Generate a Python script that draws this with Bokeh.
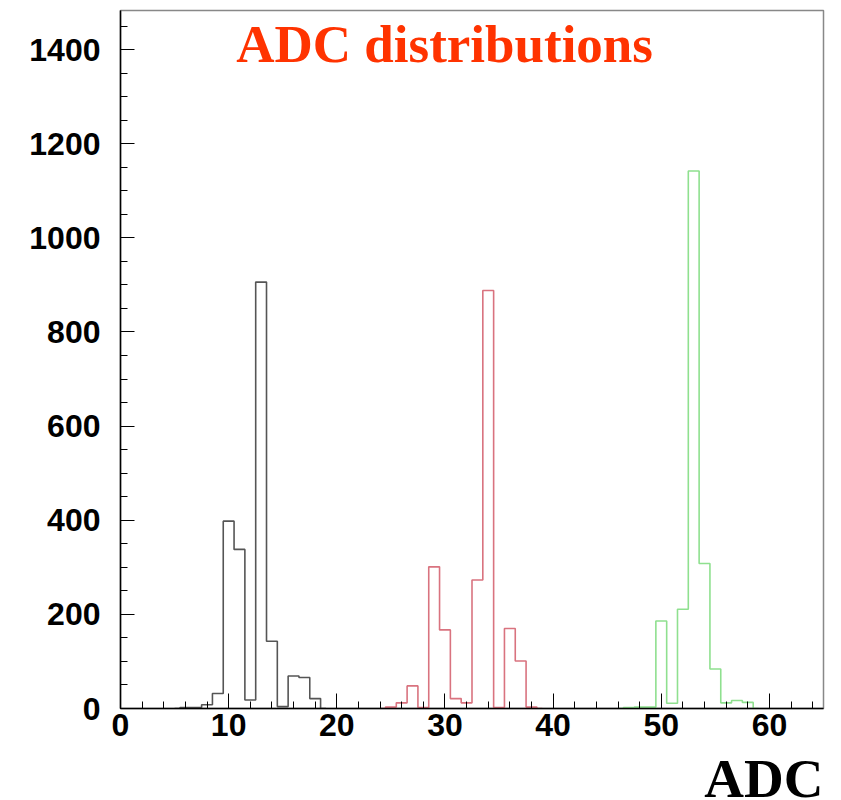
from bokeh.plotting import figure
from bokeh.models import Label, SingleIntervalTicker, Range1d
from bokeh.layouts import column
from bokeh.embed import file_html
from bokeh.resources import INLINE

# ---- data (bin centres, counts) ----
black_bins = [6, 7, 8, 9, 10, 11, 12, 13, 14, 15, 16, 17, 18]
black_counts = [2, 2, 8, 32, 398, 338, 18, 906, 143, 4, 69, 66, 21]

red_bins = [25, 26, 27, 28, 29, 30, 31, 32, 33, 34, 35, 36, 37, 38]
red_counts = [3, 12, 48, 2, 301, 167, 21, 12, 273, 888, 2, 170, 101, 3]

green_bins = [47, 48, 49, 50, 51, 52, 53, 54, 55, 56, 57, 58]
green_counts = [2, 3, 3, 186, 11, 211, 1142, 308, 84, 12, 17, 13]

series = [
    (black_bins, black_counts, "#555555"),
    (red_bins, red_counts, "#d9737f"),
    (green_bins, green_counts, "#8fe08f"),
]

title_text = "ADC distributions"
x_title = "ADC"

p = figure(width=841, height=752,
           x_range=Range1d(0, 65), y_range=Range1d(0, 1483),
           output_backend="svg", toolbar_location=None,
           min_border_left=120, min_border_right=18,
           min_border_top=10, min_border_bottom=44,
           background_fill_color="white", border_fill_color="white")

p.xgrid.visible = False
p.ygrid.visible = False
p.outline_line_color = "#888888"
p.outline_line_width = 1.5

for bins, counts, color in series:
    xs = [bins[0] - 1] + list(bins) + [bins[-1] + 1]
    ys = [0] + list(counts) + [0]
    p.step(xs, ys, mode="center", line_color=color, line_width=1.6)

for ax in (p.xaxis[0], p.yaxis[0]):
    ax.axis_line_color = "black"
    ax.axis_line_width = 1.5
    ax.major_tick_line_color = "black"
    ax.minor_tick_line_color = "black"
    ax.major_tick_out = 0
    ax.minor_tick_out = 0
    ax.major_label_text_font = "Liberation Sans"
    ax.major_label_text_font_style = "bold"
    ax.major_label_text_font_size = "32px"
    ax.major_label_text_color = "black"

p.xaxis.ticker = SingleIntervalTicker(interval=10, num_minor_ticks=5)
p.yaxis.ticker = SingleIntervalTicker(interval=200, num_minor_ticks=4)
p.xaxis.major_tick_in = 15
p.xaxis.minor_tick_in = 7
p.yaxis.major_tick_in = 14
p.yaxis.minor_tick_in = 7
p.xaxis.major_label_standoff = 5
p.yaxis.major_label_standoff = 20

p.add_layout(Label(x=10.7, y=1411, text=title_text,
                   text_font="Liberation Serif", text_font_style="bold",
                   text_font_size="53px", text_color="#ff3300",
                   text_align="left", text_baseline="alphabetic"))

# strip below the plot holding the x-axis title at the right end
# (its frame is aligned with the main plot's frame by the column layout)
p2 = figure(width=841, height=48,
            x_range=Range1d(0, 65), y_range=Range1d(0, 48),
            output_backend="svg", toolbar_location=None,
            x_axis_type=None, y_axis_type=None, min_border=0,
            background_fill_color="white", border_fill_color="white")
p2.outline_line_color = None
p2.xgrid.visible = False
p2.ygrid.visible = False
p2.add_layout(Label(x=65.0, y=-8, text=x_title,
                    text_font="Liberation Serif", text_font_style="bold",
                    text_font_size="55px", text_color="black",
                    text_align="right", text_baseline="bottom"))

layout = column(p, p2, spacing=0)
open("out.html", "w").write(file_html(layout, INLINE))
